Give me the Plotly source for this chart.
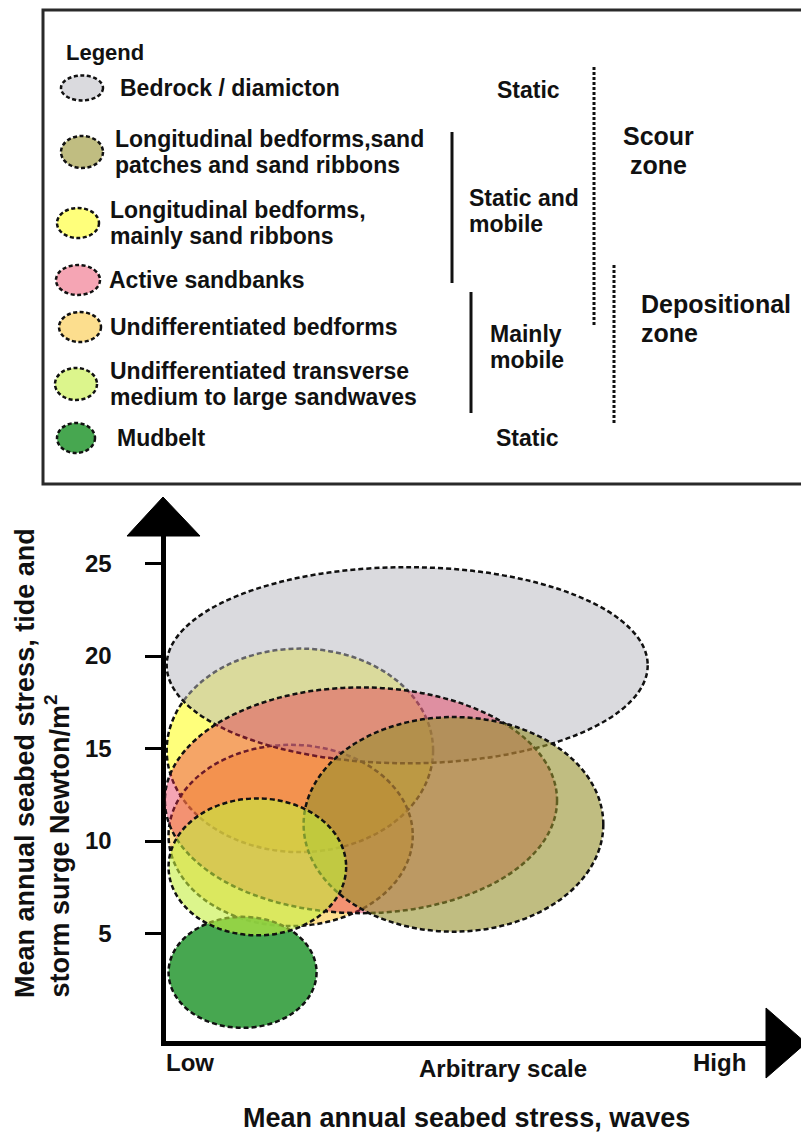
import plotly.graph_objects as go

W, H = 801, 1133

# ---------------- data ----------------
classes = [
    "Bedrock / diamicton",
    "Longitudinal bedforms,sand|patches and sand ribbons",
    "Longitudinal bedforms,|mainly sand ribbons",
    "Active sandbanks",
    "Undifferentiated bedforms",
    "Undifferentiated transverse|medium to large sandwaves",
    "Mudbelt",
]
# ellipse extents: wave stress (arbitrary units) and tide/surge stress (N/m2)
wave_center = [13.2, 15.7, 7.4, 10.7, 6.9, 5.1, 4.3]
wave_halfwidth = [13.0, 8.1, 7.2, 10.6, 6.6, 4.8, 4.0]
tide_center = [19.5, 10.9, 14.9, 12.2, 10.3, 8.6, 2.9]
tide_halfheight = [5.3, 5.8, 5.5, 6.1, 4.9, 3.7, 3.0]
draw_order = [2, 4, 0, 3, 1, 6, 5]

y_ticks = [5, 10, 15, 20, 25]
x_labels = ["Low", "Arbitrary scale", "High"]
mobility_labels = ["Static", "Static and|mobile", "Mainly|mobile", "Static"]
zone_labels = ["Scour|zone", "Depositional|zone"]
x_title = "Mean annual seabed stress, waves"
y_title_lines = ["Mean annual seabed stress, tide and", "storm surge Newton/m<sup>2</sup>"]

# ---------------- styling ----------------
fills = [
    "rgba(181,181,190,0.5)",
    "rgba(150,145,45,0.6)",
    "rgba(255,255,100,0.85)",
    "rgba(231,41,76,0.42)",
    "rgba(250,195,50,0.55)",
    "rgba(197,238,63,0.6)",
    "rgba(55,160,65,0.92)",
]
FONT = "Liberation Sans, Arial, Helvetica, sans-serif"
INK = "#111111"
DASH = "5px,3px"

X0_PX, Y0_PX, PPU = 163.0, 1026.0, 18.5  # axis origin pixel and pixels per unit
LW = 5
dom_left_px, dom_right_px = X0_PX + LW / 2, 768.0
dom_bottom_px, dom_top_px = 1043.0 - LW / 2, 535.0


def px(xp):
    return xp / W


def py(yp):
    return 1 - yp / H


fig = go.Figure()
fig.add_trace(go.Scatter(x=[1], y=[1], mode="markers", marker=dict(opacity=0),
                         showlegend=False, hoverinfo="skip"))

shapes = []
# plot ellipses
for i in draw_order:
    shapes.append(dict(
        type="circle", xref="x", yref="y", layer="above",
        x0=wave_center[i] - wave_halfwidth[i], x1=wave_center[i] + wave_halfwidth[i],
        y0=tide_center[i] - tide_halfheight[i], y1=tide_center[i] + tide_halfheight[i],
        fillcolor=fills[i], line=dict(color=INK, width=2.5, dash=DASH),
    ))

# legend box
shapes.append(dict(type="rect", xref="paper", yref="paper",
                   x0=px(43), x1=px(812), y0=py(484), y1=py(10),
                   line=dict(color="#2a2a2a", width=3), fillcolor="rgba(0,0,0,0)"))

# legend icons and labels
icon_c = [(82, 88), (82, 152), (78, 223), (78, 280), (80, 327), (76, 384), (76, 438)]
icon_r = [(21, 12.5), (21, 16), (21, 15), (22, 15), (21, 15), (21, 16), (19, 15)]
text_x = [118, 113, 108, 107, 108, 108, 115]
annotations = []
for i, lab in enumerate(classes):
    cx, cy = icon_c[i]
    rx, ry = icon_r[i]
    shapes.append(dict(type="circle", xref="paper", yref="paper",
                       x0=px(cx - rx), x1=px(cx + rx), y0=py(cy + ry), y1=py(cy - ry),
                       fillcolor=fills[i], line=dict(color=INK, width=2.5, dash="4px,2.5px")))
    lines = lab.split("|")
    n = len(lines)
    for k, t in enumerate(lines):
        yy = cy + (k - (n - 1) / 2) * 26
        annotations.append(dict(text=t, x=px(text_x[i]), y=py(yy), xref="paper", yref="paper",
                                xanchor="left", yanchor="middle", showarrow=False,
                                font=dict(family=FONT, size=23, color=INK, weight="bold")))

annotations.append(dict(text="Legend", x=px(64), y=py(52), xref="paper", yref="paper",
                        xanchor="left", yanchor="middle", showarrow=False,
                        font=dict(family=FONT, size=22, color=INK, weight="bold")))

# mobility labels
mob_pos = [(528, 90, "center"), (467, 211, "left"), (488, 347, "left"), (527, 438, "center")]
for lab, (xx, yy, anc) in zip(mobility_labels, mob_pos):
    lines = lab.split("|")
    n = len(lines)
    for k, t in enumerate(lines):
        annotations.append(dict(text=t, x=px(xx), y=py(yy + (k - (n - 1) / 2) * 26),
                                xref="paper", yref="paper", xanchor=anc, yanchor="middle",
                                showarrow=False,
                                font=dict(family=FONT, size=23, color=INK, weight="bold")))

zone_pos = [(658, 151, "center"), (639, 318, "left")]
for lab, (xx, yy, anc) in zip(zone_labels, zone_pos):
    lines = lab.split("|")
    n = len(lines)
    for k, t in enumerate(lines):
        annotations.append(dict(text=t, x=px(xx), y=py(yy + (k - (n - 1) / 2) * 29),
                                xref="paper", yref="paper", xanchor=anc, yanchor="middle",
                                showarrow=False,
                                font=dict(family=FONT, size=25, color=INK, weight="bold")))

# bracket lines
for xx, y1, y2, dash in [(452, 132, 283, "solid"), (471, 292, 413, "solid"),
                         (594, 67, 325, "3px,2px"), (614, 265, 425, "3px,2px")]:
    shapes.append(dict(type="line", xref="paper", yref="paper",
                       x0=px(xx), x1=px(xx), y0=py(y1), y1=py(y2),
                       line=dict(color=INK, width=3, dash=dash)))

# axis arrowheads
shapes.append(dict(type="path", xref="paper", yref="paper",
                   path=f"M {px(163)} {py(497)} L {px(127)} {py(536)} L {px(200)} {py(536)} Z",
                   fillcolor="black", line=dict(color="black", width=1)))
shapes.append(dict(type="path", xref="paper", yref="paper",
                   path=f"M {px(766)} {py(1008)} L {px(806)} {py(1043)} L {px(766)} {py(1078)} Z",
                   fillcolor="black", line=dict(color="black", width=1)))

# x-axis labels
for t, xx, yy in zip(x_labels, [190, 503, 719], [1062, 1068, 1062]):
    annotations.append(dict(text=t, x=px(xx), y=py(yy), xref="paper", yref="paper",
                            xanchor="center", yanchor="middle", showarrow=False,
                            font=dict(family=FONT, size=24, color=INK, weight="bold")))
annotations.append(dict(text=x_title, x=px(466), y=py(1118), xref="paper", yref="paper",
                        xanchor="center", yanchor="middle", showarrow=False,
                        font=dict(family=FONT, size=27, color=INK, weight="bold")))
for t, xx in zip(y_title_lines, [25, 57]):
    annotations.append(dict(text=t, x=px(xx), y=py(1000), xref="paper", yref="paper",
                            xanchor="center", yanchor="bottom", textangle=-90, showarrow=False,
                            font=dict(family=FONT, size=27, color=INK, weight="bold")))

fig.update_layout(
    width=W, height=H, autosize=False,
    margin=dict(l=0, r=0, t=0, b=0),
    paper_bgcolor="white", plot_bgcolor="white",
    showlegend=False,
    shapes=shapes, annotations=annotations,
    xaxis=dict(domain=[px(dom_left_px), px(dom_right_px)],
               range=[(dom_left_px - X0_PX) / PPU, (dom_right_px - X0_PX) / PPU],
               showline=True, linewidth=LW, linecolor="black",
               showgrid=False, zeroline=False, showticklabels=False, ticks="",
               fixedrange=True),
    yaxis=dict(domain=[py(dom_bottom_px), py(dom_top_px)],
               range=[(Y0_PX - dom_bottom_px) / PPU, (Y0_PX - dom_top_px) / PPU],
               showline=True, linewidth=LW, linecolor="black",
               showgrid=False, zeroline=False,
               tickvals=y_ticks, ticks="outside", ticklen=16, tickwidth=3, tickcolor="black",
               ticklabelstandoff=28,
               tickfont=dict(family=FONT, size=24, color=INK, weight="bold"),
               fixedrange=True),
)

fig.write_html("out.html", config={"displayModeBar": False},
               post_script="document.body.style.margin='0px';document.body.style.overflow='hidden';")
